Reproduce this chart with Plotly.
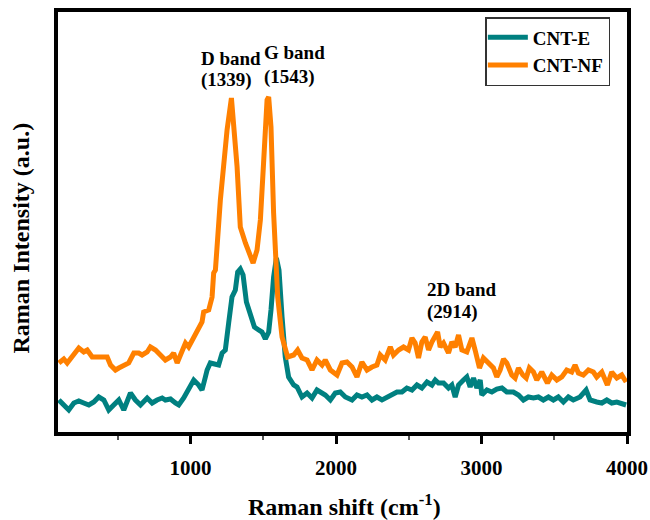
import plotly.graph_objects as go

# Raman shift (cm^-1) and intensity (a.u.)
nf_shift = [95, 129, 152, 187, 209, 232, 266, 290, 324, 358, 404, 427, 450, 484, 507, 541,
            575, 610, 644, 667, 702, 724, 759, 793, 827, 862, 884, 908, 930, 965, 987, 1011,
            1045, 1079, 1090, 1125, 1148, 1159, 1171, 1205, 1251, 1281, 1320, 1342, 1377, 1411,
            1430, 1457, 1480, 1502, 1526, 1537, 1553, 1571, 1594, 1599, 1629, 1667, 1709, 1736,
            1766, 1801, 1835, 1869, 1904, 1926, 1961, 2007, 2041, 2075, 2110, 2144, 2178, 2213,
            2247, 2281, 2304, 2338, 2373, 2395, 2430, 2464, 2498, 2522, 2544, 2567, 2590, 2613,
            2636, 2659, 2698, 2716, 2739, 2773, 2796, 2819, 2842, 2865, 2899, 2934, 2956, 2986,
            3013, 3048, 3082, 3105, 3128, 3151, 3174, 3208, 3231, 3254, 3284, 3307, 3329, 3357,
            3380, 3414, 3453, 3483, 3518, 3552, 3586, 3620, 3643, 3666, 3700, 3735, 3769, 3792,
            3827, 3865, 3895, 3930, 3964, 3994]
nf_int = [69, 73, 69, 75, 80, 84, 80, 82, 75, 75, 74, 75, 67, 62, 64, 67,
          69, 79, 79, 77, 80, 85, 82, 77, 72, 75, 79, 69, 77, 89, 85, 92,
          100, 110, 120, 122, 135, 159, 162, 232, 302, 334, 265, 205, 189, 175,
          169, 182, 212, 269, 332, 335, 305, 219, 152, 135, 95, 75, 77, 82,
          74, 72, 62, 72, 67, 72, 62, 57, 69, 70, 65, 55, 70, 62,
          65, 67, 77, 72, 85, 77, 82, 85, 82, 94, 89, 74, 90, 95,
          82, 90, 100, 85, 89, 79, 90, 85, 97, 82, 80, 94, 82, 64,
          74, 69, 64, 55, 62, 73, 69, 57, 54, 64, 57, 54, 64, 60,
          52, 60, 49, 57, 52, 55, 62, 60, 67, 59, 57, 62, 60, 55,
          60, 47, 60, 54, 57, 50]

e_shift = [95, 129, 163, 198, 232, 266, 301, 335, 369, 404, 438, 472, 507, 541, 587, 621,
           656, 702, 736, 770, 805, 827, 862, 896, 919, 953, 987, 1022, 1056, 1079, 1102, 1114,
           1136, 1171, 1193, 1217, 1239, 1262, 1285, 1308, 1324, 1342, 1361, 1384, 1411, 1439,
           1468, 1491, 1514, 1537, 1553, 1571, 1590, 1608, 1629, 1651, 1674, 1709, 1732, 1766,
           1801, 1835, 1869, 1904, 1926, 1961, 1995, 2029, 2064, 2110, 2144, 2178, 2213, 2247,
           2281, 2316, 2350, 2384, 2419, 2453, 2487, 2522, 2556, 2590, 2625, 2659, 2682, 2704,
           2739, 2773, 2796, 2819, 2842, 2876, 2899, 2922, 2945, 2968, 2991, 3002, 3037, 3071,
           3105, 3140, 3174, 3219, 3254, 3288, 3322, 3357, 3391, 3425, 3460, 3494, 3528, 3563,
           3597, 3631, 3677, 3719, 3746, 3792, 3827, 3861, 3895, 3930, 3964, 3994]
e_int = [32, 27, 22, 29, 31, 29, 27, 30, 35, 32, 22, 27, 32, 22, 39, 32,
         27, 34, 29, 32, 34, 32, 33, 29, 27, 34, 44, 52, 47, 42, 55, 62,
         69, 67, 67, 79, 82, 109, 135, 142, 160, 163, 157, 130, 117, 105,
         102, 100, 93, 100, 122, 155, 174, 162, 115, 75, 55, 47, 45, 35,
         39, 34, 42, 39, 37, 32, 39, 40, 35, 32, 37, 35, 37, 32,
         35, 32, 35, 37, 40, 40, 44, 42, 47, 44, 50, 47, 52, 49,
         49, 44, 47, 35, 47, 52, 55, 45, 54, 44, 52, 37, 42, 40,
         43, 44, 40, 40, 37, 32, 35, 34, 35, 32, 35, 32, 35, 30,
         35, 32, 35, 42, 32, 30, 29, 32, 29, 30, 29, 27]

x_ticks = [1000, 2000, 3000, 4000]

FONT = "Liberation Serif, Times New Roman, serif"
TEAL = "#008080"
ORANGE = "#FF8000"

fig = go.Figure()
fig.add_trace(go.Scatter(x=e_shift, y=e_int, mode="lines", name="CNT-E",
                         line=dict(color=TEAL, width=5)))
fig.add_trace(go.Scatter(x=nf_shift, y=nf_int, mode="lines", name="CNT-NF",
                         line=dict(color=ORANGE, width=5)))

ann_font = dict(family=FONT, size=19, color="black")
notes = [
    (199, 58, "<b>D band</b>"), (199, 80, "<b>(1339)</b>"),
    (262, 53, "<b>G band</b>"), (262, 77, "<b>(1543)</b>"),
    (425, 289, "<b>2D band</b>"), (425, 312, "<b>(2914)</b>"),
]
L, R, T, B = 57.5, 626.7, 12, 432
for px, py, txt in notes:
    fig.add_annotation(x=(px - L) / (R - L), y=(B - py) / (B - T), xref="paper", yref="paper",
                       text=txt, showarrow=False, xanchor="left", yanchor="middle",
                       font=ann_font)

fig.add_annotation(x=(344 - L) / (R - L), y=(B - 505) / (B - T), xref="paper", yref="paper",
                   text="<b>Raman shift (cm<sup>-1</sup>)</b>", showarrow=False,
                   xanchor="center", yanchor="middle",
                   font=dict(family=FONT, size=24, color="black"))
fig.add_annotation(x=(20 - L) / (R - L), y=(B - 238) / (B - T), xref="paper", yref="paper",
                   text="<b>Raman Intensity (a.u.)</b>", showarrow=False, textangle=-90,
                   xanchor="center", yanchor="middle",
                   font=dict(family=FONT, size=24, color="black"))

fig.update_layout(
    width=650, height=520,
    margin=dict(l=58, r=23, t=12, b=88, autoexpand=False),
    paper_bgcolor="white", plot_bgcolor="white",
    showlegend=True,
    legend=dict(x=(485 - L) / (R - L), y=(B - 17) / (B - T), xanchor="left", yanchor="top",
                bordercolor="#333333", borderwidth=1.5, bgcolor="white",
                font=dict(family=FONT, size=19, color="black", weight=700),
                tracegroupgap=0, itemwidth=40, indentation=-4),
    xaxis=dict(range=[89, 4000], tickvals=x_ticks, ticktext=[str(v) for v in x_ticks],
               automargin=False,
               showgrid=False, zeroline=False, showline=True, linecolor="black", linewidth=4,
               mirror=True, ticks="outside", ticklen=8, tickwidth=3, tickcolor="black",
               ticklabelstandoff=6,
               tickfont=dict(family=FONT, size=21, color="black", weight=700),
               minor=dict(tickvals=[500, 1500, 2500, 3500], ticks="outside", ticklen=4,
                          tickwidth=1.5, tickcolor="#555555")),
    yaxis=dict(range=[0, 420], showticklabels=False, ticks="", showgrid=False, zeroline=False,
               automargin=False,
               showline=True, linecolor="black", linewidth=4, mirror=True),
)

fig.write_html("out.html")
